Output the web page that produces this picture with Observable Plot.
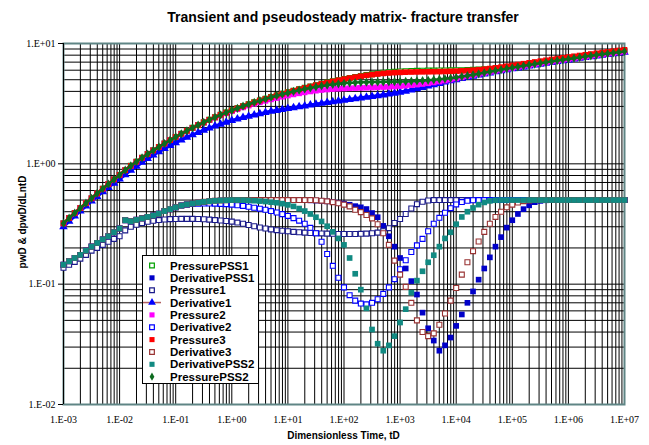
<!DOCTYPE html>
<html><head><meta charset="utf-8">
<script src="https://cdn.jsdelivr.net/npm/d3@7"></script>
<script src="https://cdn.jsdelivr.net/npm/@observablehq/plot@0.6"></script>
<style>
body{margin:0;background:#fff;}
#wrap{position:relative;width:649px;height:445px;overflow:hidden;font-family:"Liberation Sans",Arial,sans-serif;background:#fff;}
#wrap svg.plot{position:absolute;left:0;top:0;}
.ttl{position:absolute;left:0;width:686px;top:9px;text-align:center;font-weight:bold;font-size:14px;color:#000;white-space:nowrap;}
.xt{position:absolute;left:63px;width:561px;top:430px;text-align:center;font-weight:bold;font-size:10px;white-space:nowrap;}
.yt{position:absolute;left:22px;top:222px;transform:translate(-50%,-50%) rotate(-90deg);font-weight:bold;font-size:10px;white-space:nowrap;}
#leg{position:absolute;left:142px;top:255px;}
</style></head><body><div id="wrap"></div><script>
// time grid (log10 of dimensionless time tD)
const logTD = [-3.0,-2.9,-2.8,-2.7,-2.6,-2.5,-2.4,-2.3,-2.2,-2.1,-2.0,-1.9,-1.8,-1.7,-1.6,-1.5,-1.4,-1.3,-1.2,-1.1,-1.0,-0.9,-0.8,-0.7,-0.6,-0.5,-0.4,-0.3,-0.2,-0.1,0.0,0.1,0.2,0.3,0.4,0.5,0.6,0.7,0.8,0.9,1.0,1.1,1.2,1.3,1.4,1.5,1.6,1.7,1.8,1.9,2.0,2.1,2.2,2.3,2.4,2.5,2.6,2.7,2.8,2.9,3.0,3.1,3.2,3.3,3.4,3.5,3.6,3.7,3.8,3.9,4.0,4.1,4.2,4.3,4.4,4.5,4.6,4.7,4.8,4.9,5.0,5.1,5.2,5.3,5.4,5.5,5.6,5.7,5.8,5.9,6.0,6.1,6.2,6.3,6.4,6.5,6.6,6.7,6.8,6.9,7.0];

const pressurePSS1 = [0.320,0.354,0.390,0.429,0.471,0.517,0.567,0.621,0.679,0.742,0.809,0.885,0.962,1.041,1.123,1.207,1.293,1.382,1.475,1.572,1.672,1.776,1.882,1.990,2.100,2.211,2.324,2.437,2.551,2.666,2.781,2.896,3.011,3.126,3.241,3.356,3.471,3.586,3.701,3.816,3.931,4.046,4.161,4.276,4.391,4.506,4.620,4.732,4.844,4.953,5.060,5.165,5.268,5.368,5.465,5.554,5.637,5.708,5.765,5.812,5.850,5.881,5.906,5.925,5.938,5.949,5.956,5.963,5.970,5.978,5.988,6.002,6.018,6.038,6.063,6.094,6.133,6.180,6.237,6.304,6.383,6.471,6.568,6.672,6.782,6.895,7.010,7.125,7.240,7.355,7.470,7.585,7.700,7.815,7.930,8.045,8.160,8.275,8.390,8.505,8.620];

const derivativePSS1 = [0.145,0.155,0.165,0.175,0.19,0.205,0.22,0.235,0.25,0.27,0.29,0.34,0.333,0.342,0.352,0.362,0.372,0.385,0.405,0.42,0.435,0.45,0.46,0.468,0.476,0.483,0.489,0.493,0.496,0.498,0.5,0.5,0.5,0.5,0.5,0.5,0.5,0.5,0.5,0.5,0.5,0.5,0.5,0.499,0.497,0.495,0.492,0.488,0.482,0.475,0.467,0.457,0.445,0.435,0.421,0.39,0.36,0.305,0.25,0.205,0.165,0.135,0.106,0.082,0.058,0.043,0.034,0.028,0.031,0.036,0.045,0.056,0.07,0.087,0.109,0.135,0.167,0.205,0.246,0.295,0.34,0.383,0.42,0.452,0.48,0.492,0.498,0.5,0.5,0.5,0.5,0.5,0.5,0.5,0.5,0.5,0.5,0.5,0.5,0.5,0.5];

const pressure1 = [0.137,0.145,0.153,0.163,0.175,0.19,0.2,0.212,0.225,0.238,0.25,0.28,0.3,0.312,0.322,0.33,0.336,0.341,0.345,0.347,0.348,0.349,0.349,0.349,0.348,0.346,0.344,0.341,0.338,0.335,0.331,0.325,0.318,0.31,0.303,0.296,0.29,0.285,0.281,0.278,0.275,0.272,0.27,0.268,0.266,0.265,0.264,0.263,0.262,0.261,0.261,0.261,0.261,0.262,0.263,0.265,0.268,0.275,0.292,0.322,0.348,0.383,0.425,0.462,0.484,0.496,0.5,0.5,0.5,0.5,0.5,0.5,0.5,0.5,0.5,0.5,0.5,0.5,0.5,0.5,0.5,0.5,0.5,0.5,0.5,0.5,0.5,0.5,0.5,0.5,0.5,0.5,0.5,0.5,0.5,0.5,0.5,0.5,0.5,0.5,0.5];

const derivative1 = [0.300,0.333,0.368,0.406,0.446,0.490,0.536,0.585,0.637,0.691,0.749,0.813,0.883,0.954,1.029,1.105,1.182,1.261,1.340,1.420,1.500,1.580,1.661,1.741,1.821,1.901,1.980,2.059,2.137,2.214,2.290,2.36,2.43,2.49,2.55,2.61,2.67,2.73,2.78,2.83,2.88,2.93,2.98,3.03,3.08,3.13,3.18,3.23,3.28,3.33,3.38,3.43,3.48,3.53,3.58,3.63,3.685,3.74,3.80,3.865,3.935,4.015,4.105,4.205,4.315,4.43,4.545,4.66,4.775,4.89,5.005,5.12,5.235,5.35,5.465,5.58,5.695,5.81,5.925,6.04,6.155,6.27,6.385,6.50,6.615,6.73,6.845,6.96,7.075,7.19,7.305,7.42,7.535,7.65,7.765,7.88,7.995,8.11,8.225,8.34,8.455];

const pressure2 = [0.320,0.354,0.390,0.429,0.471,0.517,0.567,0.621,0.679,0.742,0.809,0.885,0.962,1.041,1.123,1.207,1.293,1.382,1.475,1.572,1.672,1.776,1.882,1.988,2.096,2.204,2.312,2.419,2.526,2.632,2.738,2.842,2.945,3.046,3.145,3.243,3.338,3.431,3.522,3.610,3.695,3.776,3.853,3.926,3.994,4.055,4.107,4.148,4.181,4.207,4.228,4.247,4.264,4.280,4.295,4.311,4.329,4.348,4.369,4.394,4.425,4.461,4.504,4.553,4.608,4.671,4.745,4.827,4.917,5.016,5.121,5.232,5.346,5.460,5.575,5.691,5.806,5.921,6.036,6.151,6.266,6.381,6.496,6.611,6.726,6.841,6.956,7.071,7.186,7.301,7.416,7.531,7.646,7.761,7.876,7.991,8.106,8.221,8.336,8.451,8.566];

const derivative2 = [0.145,0.155,0.165,0.175,0.19,0.205,0.22,0.235,0.25,0.27,0.29,0.34,0.333,0.342,0.352,0.362,0.372,0.385,0.405,0.42,0.435,0.45,0.458,0.463,0.466,0.468,0.468,0.467,0.465,0.462,0.458,0.453,0.447,0.44,0.432,0.424,0.415,0.405,0.394,0.382,0.369,0.354,0.337,0.318,0.294,0.265,0.225,0.178,0.142,0.113,0.094,0.081,0.073,0.069,0.068,0.07,0.075,0.083,0.094,0.11,0.133,0.158,0.185,0.21,0.238,0.275,0.318,0.356,0.392,0.428,0.46,0.481,0.493,0.498,0.5,0.5,0.5,0.5,0.5,0.5,0.5,0.5,0.5,0.5,0.5,0.5,0.5,0.5,0.5,0.5,0.5,0.5,0.5,0.5,0.5,0.5,0.5,0.5,0.5,0.5,0.5];

const pressure3 = [0.320,0.354,0.390,0.429,0.471,0.517,0.567,0.621,0.679,0.742,0.809,0.885,0.962,1.041,1.123,1.207,1.293,1.382,1.475,1.572,1.672,1.776,1.882,1.990,2.100,2.211,2.324,2.437,2.551,2.666,2.781,2.896,3.011,3.126,3.241,3.356,3.471,3.586,3.701,3.816,3.931,4.046,4.161,4.276,4.391,4.506,4.620,4.732,4.843,4.951,5.056,5.158,5.255,5.346,5.431,5.510,5.583,5.644,5.692,5.728,5.756,5.777,5.793,5.805,5.814,5.823,5.832,5.843,5.856,5.873,5.894,5.922,5.957,6.000,6.052,6.115,6.188,6.272,6.365,6.465,6.571,6.680,6.793,6.907,7.022,7.137,7.252,7.367,7.482,7.597,7.712,7.827,7.942,8.057,8.172,8.287,8.402,8.517,8.632,8.747,8.862];

const derivative3 = [0.145,0.155,0.165,0.175,0.19,0.205,0.22,0.235,0.25,0.27,0.29,0.34,0.333,0.342,0.352,0.362,0.372,0.385,0.405,0.42,0.435,0.45,0.46,0.468,0.476,0.483,0.489,0.493,0.496,0.498,0.5,0.5,0.5,0.5,0.5,0.5,0.5,0.5,0.5,0.5,0.5,0.5,0.5,0.5,0.5,0.498,0.494,0.488,0.48,0.47,0.458,0.443,0.415,0.397,0.376,0.352,0.315,0.265,0.212,0.157,0.12,0.095,0.07,0.05,0.04,0.037,0.039,0.046,0.057,0.073,0.093,0.12,0.152,0.188,0.226,0.272,0.318,0.362,0.4,0.435,0.458,0.477,0.49,0.497,0.5,0.5,0.5,0.5,0.5,0.5,0.5,0.5,0.5,0.5,0.5,0.5,0.5,0.5,0.5,0.5,0.5];

const derivativePSS2 = [0.145,0.155,0.165,0.175,0.19,0.205,0.22,0.235,0.25,0.27,0.29,0.34,0.333,0.342,0.352,0.362,0.372,0.385,0.405,0.42,0.435,0.45,0.46,0.468,0.476,0.483,0.489,0.493,0.496,0.498,0.5,0.5,0.499,0.497,0.494,0.49,0.486,0.48,0.475,0.467,0.456,0.443,0.425,0.405,0.383,0.36,0.332,0.303,0.272,0.24,0.212,0.165,0.122,0.09,0.063,0.042,0.032,0.028,0.031,0.037,0.048,0.062,0.085,0.107,0.128,0.152,0.174,0.205,0.24,0.27,0.315,0.362,0.4,0.43,0.458,0.478,0.492,0.498,0.5,0.5,0.5,0.5,0.5,0.5,0.5,0.5,0.5,0.5,0.5,0.5,0.5,0.5,0.5,0.5,0.5,0.5,0.5,0.5,0.5,0.5,0.5];

const pressurePSS2 = [0.320,0.354,0.390,0.429,0.471,0.517,0.567,0.621,0.679,0.742,0.809,0.885,0.962,1.041,1.123,1.207,1.293,1.382,1.475,1.572,1.672,1.776,1.882,1.990,2.100,2.211,2.324,2.437,2.551,2.666,2.781,2.896,3.011,3.126,3.239,3.351,3.463,3.574,3.683,3.790,3.895,3.997,4.095,4.188,4.276,4.359,4.436,4.505,4.568,4.623,4.672,4.710,4.738,4.759,4.773,4.782,4.790,4.797,4.803,4.812,4.823,4.837,4.857,4.882,4.911,4.947,4.987,5.034,5.090,5.152,5.224,5.308,5.400,5.498,5.604,5.714,5.827,5.942,6.057,6.172,6.288,6.402,6.518,6.632,6.747,6.862,6.977,7.092,7.207,7.322,7.437,7.552,7.667,7.782,7.897,8.012,8.127,8.242,8.357,8.472,8.587];

// axis tick exponents
const xTickExp = [-3,-2,-1,0,1,2,3,4,5,6,7];
const yTickExp = [-2,-1,0,1];
const minorMult = [1,2,3,4,5,6,7,8,9];

// series styles in drawing (legend) order
const seriesList = [
  {name:"PressurePSS1", values:pressurePSS1, symbol:"square", open:true, color:"#00a000"},
  {name:"DerivativePSS1", values:derivativePSS1, symbol:"square", open:false, color:"#0000c8"},
  {name:"Pressure1", values:pressure1, symbol:"square", open:true, color:"#1a1a8a"},
  {name:"Derivative1", values:derivative1, symbol:"triangle", open:false, color:"#0000ff", line:"#b06060", band:true},
  {name:"Pressure2", values:pressure2, symbol:"square", open:false, color:"#ff00ff", band:true},
  {name:"Derivative2", values:derivative2, symbol:"square", open:true, color:"#0000ff"},
  {name:"Pressure3", values:pressure3, symbol:"square", open:false, color:"#ff0000", band:true},
  {name:"Derivative3", values:derivative3, symbol:"square", open:true, color:"#993333"},
  {name:"DerivativePSS2", values:derivativePSS2, symbol:"square", open:false, color:"#118a82"},
  {name:"PressurePSS2", values:pressurePSS2, symbol:"diamond", open:false, color:"#0d6b1f", band:true}
];

const fmtE = d => { const e = Math.round(Math.log10(d)); return "1.E" + (e < 0 ? "-" : "+") + String(Math.abs(e)).padStart(2, "0"); };
const xTicks = xTickExp.map(e => Math.pow(10, e));
const yTicks = yTickExp.map(e => Math.pow(10, e));
const gridX = [];
for (const e of xTickExp.slice(0, -1)) for (const m of minorMult) gridX.push(m * Math.pow(10, e));
gridX.push(Math.pow(10, xTickExp[xTickExp.length - 1]));
const gridY = [];
for (const e of yTickExp.slice(0, -1)) for (const m of minorMult) gridY.push(m * Math.pow(10, e));
gridY.push(Math.pow(10, yTickExp[yTickExp.length - 1]));

const dotMarks = [];
for (const s of seriesList) {
  const data = logTD.map((lt, i) => ({t: Math.pow(10, lt), v: s.values[i]}));
  if (s.band) dotMarks.push(Plot.line(data, {x: "t", y: "v", stroke: s.color, strokeWidth: s.symbol === "diamond" ? 2.5 : 3.2, curve: "monotone-x"}));
  if (s.open) dotMarks.push(Plot.dot(data, {x: "t", y: "v", symbol: s.symbol, r: 2.8, fill: "white", stroke: s.color, strokeWidth: 1.1}));
  else if (s.symbol === "triangle") dotMarks.push(Plot.dot(data, {x: "t", y: "v", symbol: "triangle", r: 3.2, fill: s.color, stroke: "none"}));
  else if (s.symbol === "diamond") dotMarks.push(Plot.dot(data, {x: "t", y: "v", symbol: "diamond", r: 2.8, fill: s.color, stroke: "none"}));
  else dotMarks.push(Plot.dot(data, {x: "t", y: "v", symbol: "square", r: 3.2, fill: s.color, stroke: "none"}));
}

const chart = Plot.plot({
  width: 649, height: 445,
  marginLeft: 63, marginRight: 25, marginTop: 43, marginBottom: 41,
  x: {type: "log", domain: [xTicks[0], xTicks[xTicks.length - 1]]},
  y: {type: "log", domain: [yTicks[0], yTicks[yTicks.length - 1]]},
  style: {fontFamily: "'Liberation Serif','Times New Roman',serif", fontSize: "10px", background: "white", color: "black", overflow: "visible"},
  marks: [
    Plot.ruleX(gridX, {stroke: "#000", strokeWidth: 1}),
    Plot.ruleY(gridY, {stroke: "#000", strokeWidth: 1}),
    Plot.frame({stroke: "#5f8585", strokeWidth: 2}),
    Plot.ruleX([xTicks[0]], {stroke: "#000", strokeWidth: 1}),
    ...dotMarks,
    Plot.axisX(xTicks, {tickSize: 0, tickPadding: 11, tickFormat: fmtE, label: null}),
    Plot.axisY(yTicks, {tickSize: 5, tickPadding: 3, tickFormat: fmtE, label: null})
  ]
});
chart.classList.add("plot");
const wrap = document.getElementById("wrap");
wrap.appendChild(chart);

const t = document.createElement("div"); t.className = "ttl"; t.textContent = "Transient and pseudosteady matrix- fracture transfer"; wrap.appendChild(t);
const xt = document.createElement("div"); xt.className = "xt"; xt.textContent = "Dimensionless Time, tD"; wrap.appendChild(xt);
const yt = document.createElement("div"); yt.className = "yt"; yt.textContent = "pwD & dpwD/dLntD"; wrap.appendChild(yt);

// legend box
const lw = 117, lh = 129;
const leg = d3.create("svg").attr("id", "leg").attr("width", lw).attr("height", lh);
leg.append("rect").attr("x", 0.5).attr("y", 0.5).attr("width", lw - 1).attr("height", lh - 1).attr("fill", "white").attr("stroke", "black");
const symMap = {square: d3.symbolSquare, triangle: d3.symbolTriangle, diamond: d3.symbolDiamond};
seriesList.forEach((s, i) => {
  const cy = 10.5 + i * 12.35;
  const g = leg.append("g");
  if (s.line) g.append("line").attr("x1", 1).attr("x2", 19).attr("y1", cy).attr("y2", cy).attr("stroke", s.line).attr("stroke-width", 1.5);
  const size = s.open ? 22 : (s.symbol === "diamond" ? 20 : 26);
  g.append("path").attr("d", d3.symbol(symMap[s.symbol], size)()).attr("transform", `translate(10,${cy})`)
    .attr("fill", s.open ? "white" : s.color).attr("stroke", s.open ? s.color : "none").attr("stroke-width", 1.2);
  g.append("text").attr("x", 28).attr("y", cy).attr("dy", "0.36em").attr("font-family", "'Liberation Sans',Arial,sans-serif")
    .attr("font-weight", "bold").attr("font-size", "11.5px").attr("fill", "black").text(s.name);
});
wrap.appendChild(leg.node());
</script></body></html>
